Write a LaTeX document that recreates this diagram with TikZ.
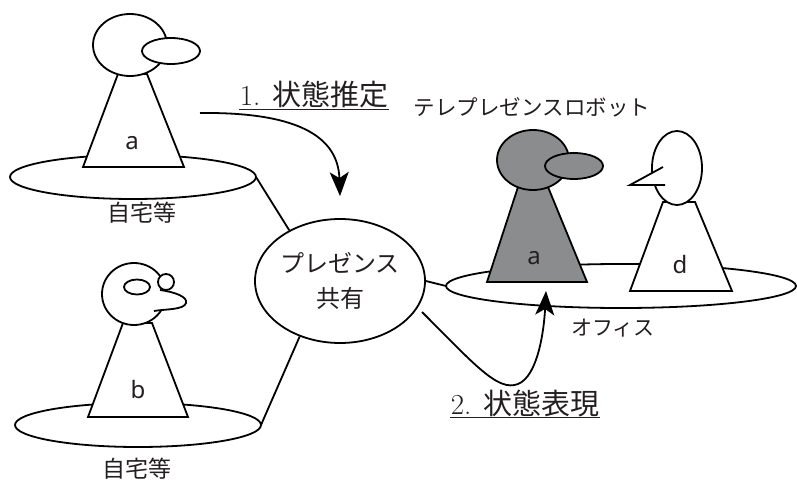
\documentclass[tikz,border=0pt]{standalone}
\usepackage{fontspec}
\newfontfamily\jp{Noto Sans CJK JP}
\newfontfamily\lbl{Noto Sans}
\usetikzlibrary{shapes.geometric,arrows.meta}
\definecolor{robotgray}{HTML}{8A8C8E}
\definecolor{ink}{HTML}{231F20}

\begin{document}
\begin{tikzpicture}[x=1pt,y=-1pt,line width=1.8pt,line join=miter,
  plate/.style={draw,ellipse,fill=white,inner sep=0pt,outer sep=0pt},
  bodyshape/.style={draw,fill=white},
  robotshape/.style={draw,fill=robotgray},
  letter/.style={font=\lbl\fontsize{24}{28}\selectfont,text=ink,inner sep=0pt},
  place/.style={font=\jp\fontsize{23}{27}\selectfont,text=ink,inner sep=0pt},
  caption/.style={font=\jp\fontsize{21.5}{25}\selectfont,text=ink,inner sep=0pt},
  steplabel/.style={font=\fontsize{29}{33}\selectfont,text=ink,inner sep=0pt,anchor=base},
  uline/.style={line width=1.5pt,draw=ink},
  arr/.style={-{Stealth[length=24pt,width=19pt,inset=6pt]},line width=1.8pt}]
\useasboundingbox (0,0) rectangle (797,481);

% ---- home of person a ----
\node[plate,minimum width=246pt,minimum height=44pt] (homeA) at (133,177) {};
\draw[bodyshape] (83,167) -- (118,74) -- (147,74) -- (184,167) -- cycle;
\draw[fill=white] (130,45) ellipse [x radius=37pt,y radius=31pt];
\draw[fill=white] (171,51) ellipse [x radius=29pt,y radius=13pt];
\node[letter] (la) at (132,143) {a};
\node[place] (homeAlbl) at (142,213) {自宅等};

% ---- home of person b ----
\node[plate,minimum width=246pt,minimum height=44pt] (homeB) at (138,425) {};
\draw[bodyshape] (88,417) -- (123,323) -- (152,323) -- (188,417) -- cycle;
\draw[fill=white] (134,294) ellipse [x radius=32pt,y radius=31pt];
% beak
\fill[white] (160,290) .. controls (175,292) and (188,297) .. (186,303)
  .. controls (184,310) and (165,309) .. (154,311) -- cycle;
\draw (160,290) .. controls (175,292) and (188,297) .. (186,303)
  .. controls (184,310) and (165,309) .. (154,311);
\draw[fill=white] (166,282) circle [radius=8pt];
\draw[fill=white] (137,287) ellipse [x radius=13pt,y radius=7.5pt];
\node[letter] (lb) at (138,389) {b};
\node[place] (homeBlbl) at (137,469) {自宅等};

% ---- presence sharing ----
\node[draw,ellipse,fill=white,minimum width=170pt,minimum height=124pt,
  inner sep=0pt,align=center,font=\jp\fontsize{24}{35}\selectfont,text=ink]
  (presence) at (340,281) {プレゼンス\\共有};

% ---- office ----
\node[plate,minimum width=350pt,minimum height=44pt] (office) at (621,286) {};
% telepresence robot
\draw[robotshape] (487,282) -- (518,187) -- (548,187) -- (587,282) -- cycle;
\draw[robotshape] (533,160) ellipse [x radius=36pt,y radius=30pt];
\draw[robotshape] (574,166) ellipse [x radius=29pt,y radius=13pt];
\node[letter] (lra) at (534,258) {a};
% person d
\draw[bodyshape] (630,291) -- (663,202) -- (695,202) -- (732,291) -- cycle;
\draw[fill=white] (677,168) ellipse [x radius=25pt,y radius=37pt];
\fill[white] (663,167) -- (630,185) -- (665,185) -- cycle;
\draw (663,167) -- (630,185) -- (665,185);
\node[letter] (ld) at (680,264) {d};
\node[caption] (robotlbl) at (532,107) {テレプレゼンスロボット};
\node[font=\jp\fontsize{21}{25}\selectfont,text=ink,inner sep=0pt] (officelbl) at (613,328) {オフィス};

% ---- connectors ----
\draw (homeA.east) -- (presence.135);
\draw (homeB.east) -- (presence.234);
\draw (presence.east) -- (office.west);

% ---- step 1: state estimation ----
\coordinate (s1) at (200,113);
\draw[arr] (s1) .. controls (295,112) and (338,135) .. ([yshift=22pt]presence.north);
\node[steplabel] (step1) at (314,106) {1. {\jp 状態推定}};
\draw[uline] ([yshift=-3.5pt]step1.base west) -- ([yshift=-3.5pt]step1.base east);

% ---- step 2: state expression ----
\coordinate (s2) at (422,312);
\coordinate (t2) at (546,291);
\draw[arr] (s2) .. controls (475,365) and (498,392) .. (518,384)
  .. controls (538,376) and (544,330) .. (t2);
\node[steplabel] (step2) at (525,414) {2. {\jp 状態表現}};
\draw[uline] ([yshift=-3.5pt]step2.base west) -- ([yshift=-3.5pt]step2.base east);
\end{tikzpicture}
\end{document}
